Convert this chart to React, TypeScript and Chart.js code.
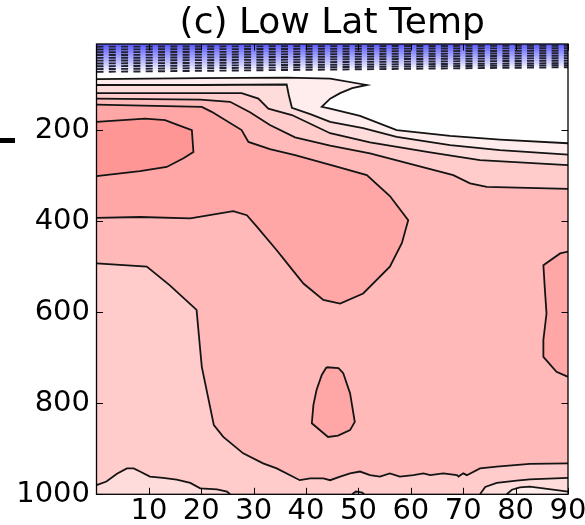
import React, { useEffect, useRef } from 'react';
import { Chart, registerables } from 'chart.js';

Chart.register(...registerables);

// ---- axis ticks ----
const latTicks = [10, 20, 30, 40, 50, 60, 70, 80, 90];
const presTicks = [200, 400, 600, 800, 1000];
const presTop = 11;

// ---- negative (dashed) contours: pressure at lat 0 and lat 90 ----
const negLevelsAt0 = [16.9, 23.0, 29.2, 35.3, 41.5, 47.6, 53.8, 59.9, 66.1, 72.2];
const negLevelsAt90 = [14.7, 20.2, 25.7, 31.2, 36.6, 42.1, 47.6, 53.1, 57.5, 62.0];

// ---- positive contours, [latitude, pressure] ----
const c1 = [[0, 88], [19.8, 86], [36.4, 85], [44.6, 87], [51.6, 101], [48.8, 108], [46.5, 119], [44.6, 131], [43.0, 149], [44.6, 153], [50.3, 169], [57.3, 200], [67.5, 213], [77.0, 221], [90, 229]];
const c2 = [[0, 101], [19.8, 101], [36.3, 100], [36.7, 123], [37.3, 151], [40.8, 165], [44.6, 182], [50.9, 196], [57.3, 215], [67.5, 233], [77.0, 244], [90, 254]];
const c3 = [[0, 119], [27.7, 119], [30.9, 131], [32.8, 153], [37.3, 167], [44.6, 207], [52.2, 227], [63.7, 249], [73.2, 266], [90, 277]];
const c4 = [[0, 131], [19.8, 133], [25.5, 138], [29.3, 161], [33.1, 189], [37.9, 216], [44.6, 234], [52.2, 251], [68.1, 299], [71.3, 317], [74.5, 325], [90, 329]];
const c4Low = [[0, 493], [9.6, 500], [14.0, 541], [19.1, 595], [19.8, 683], [20.1, 720], [22.4, 848], [24.2, 874], [28.0, 910], [31.8, 932], [34.4, 943], [38.8, 969], [40.8, 965], [43.3, 965], [44.6, 969], [46.5, 961], [48.4, 954], [50.3, 950], [52.2, 958], [54.1, 961], [56.0, 954], [57.9, 961], [60.5, 958], [62.4, 954], [63.7, 958], [66.2, 954], [68.8, 958], [69.1, 961], [70.0, 954], [70.7, 958], [73.2, 943], [76.4, 939], [82.7, 933], [90, 932]];
const c3LowRight = [[73.2, 1000], [74.2, 984], [76.4, 975], [80.2, 970], [82.7, 967], [90, 964]];
const c3LowLeft = [[0, 980], [1.9, 972], [3.9, 955], [5.8, 943], [7.1, 943], [8.3, 950], [10.2, 961], [12.7, 964], [15.3, 968], [17.9, 975], [19.8, 987], [23.0, 989], [24.9, 994], [25.5, 1000]];
const c3Bump = [[48.8, 1000], [49.5, 994], [50.7, 996], [51.1, 1000]];
const c2LowRight = [[78.3, 1000], [79.3, 990], [80.8, 985], [82.7, 983], [85.3, 987], [90, 994]];
const c5Lobe = [[0, 144], [20.1, 149], [22.0, 160], [27.7, 200], [29.0, 226], [33.1, 242], [37.9, 255], [45.5, 279], [51.6, 299], [56.0, 345], [59.5, 398], [58.3, 448], [56.0, 500], [50.9, 559], [46.5, 581], [43.3, 573], [39.5, 537], [36.9, 500], [34.4, 464], [30.6, 412], [28.7, 387], [26.1, 378], [17.9, 394], [8.3, 391], [0, 393]];
const c5Mid = [[43.9, 721], [46.2, 723], [47.1, 734], [48.4, 778], [49.3, 841], [48.4, 859], [46.1, 871], [44.2, 874], [41.1, 844], [41.4, 804], [42.0, 771], [43.0, 738], [43.9, 721]];
const c5Right = [[90, 467], [88.5, 471], [85.3, 497], [85.6, 552], [85.9, 603], [85.3, 661], [85.3, 698], [87.8, 731], [90, 742]];
const c6Core = [[0, 182], [9.3, 175], [13.1, 178], [15.6, 189], [18.2, 200], [18.5, 248], [16.6, 262], [13.4, 281], [8.3, 290], [0, 301]];

// ---- fill colours ----
const posColors = ['#ffeded', '#ffdcdc', '#ffcbcb', '#ffb9b9', '#ffa7a7', '#ff9696'];
const negColors = ['#efefff', '#dfdfff', '#cfcfff', '#bfbfff', '#afafff', '#9f9fff', '#8f8fff', '#7f7fff', '#6f6fff', '#5f5fff'];

const rev = (a: number[][]) => a.slice().reverse();
const toXY = (a: number[][]) => a.map(([x, y]) => ({ x, y }));

type Region = { pts: number[][]; color: string };
const regions: Region[] = [];
// negative bands, from the weakest (lowest) to the strongest (top)
for (let k = negLevelsAt0.length - 1; k >= 0; k--) {
  regions.push({
    pts: [[0, presTop], [90, presTop], [90, negLevelsAt90[k]], [0, negLevelsAt0[k]]],
    color: negColors[negLevelsAt0.length - 1 - k],
  });
}
regions.push({ pts: [...c1, [90, 1000], [0, 1000]], color: posColors[0] });
regions.push({ pts: [...c2, ...rev(c2LowRight), [0, 1000]], color: posColors[1] });
regions.push({ pts: [...c3, ...rev(c3LowRight), ...rev(c3LowLeft)], color: posColors[2] });
regions.push({ pts: c3Bump, color: posColors[1] });
regions.push({ pts: [...c4, ...rev(c4Low)], color: posColors[3] });
regions.push({ pts: c5Lobe, color: posColors[4] });
regions.push({ pts: c5Mid, color: posColors[4] });
regions.push({ pts: c5Right, color: posColors[4] });
regions.push({ pts: c6Core, color: posColors[5] });

const solidLines = [c1, c2, c3, c4, c4Low, c3LowRight, c3LowLeft, c3Bump, c2LowRight, c5Lobe, c5Mid, c5Right, c6Core];

const fillPlugin = {
  id: 'contourFill',
  beforeDatasetsDraw(chart: any) {
    const { ctx, chartArea, scales } = chart;
    const xs = scales.x;
    const ys = scales.y;
    ctx.save();
    ctx.beginPath();
    ctx.rect(chartArea.left, chartArea.top, chartArea.right - chartArea.left, chartArea.bottom - chartArea.top);
    ctx.clip();
    for (const r of regions) {
      ctx.beginPath();
      r.pts.forEach(([a, b], i) => {
        const px = xs.getPixelForValue(a);
        const py = ys.getPixelForValue(b);
        if (i === 0) ctx.moveTo(px, py);
        else ctx.lineTo(px, py);
      });
      ctx.closePath();
      ctx.fillStyle = r.color;
      ctx.fill();
    }
    ctx.restore();
  },
};

const framePlugin = {
  id: 'frameTicks',
  afterDraw(chart: any) {
    const { ctx, chartArea, scales } = chart;
    const { left, right, top, bottom } = chartArea;
    ctx.save();
    ctx.strokeStyle = '#000';
    ctx.lineWidth = 1.3;
    ctx.strokeRect(left, top, right - left, bottom - top);
    const len = 6.5;
    ctx.lineWidth = 1;
    ctx.beginPath();
    for (const v of latTicks) {
      const px = Math.round(scales.x.getPixelForValue(v)) + 0.5;
      ctx.moveTo(px, bottom);
      ctx.lineTo(px, bottom - len);
      ctx.moveTo(px, top);
      ctx.lineTo(px, top + len);
    }
    for (const v of presTicks) {
      const py = Math.round(scales.y.getPixelForValue(v)) + 0.5;
      ctx.moveTo(left, py);
      ctx.lineTo(left + len, py);
      ctx.moveTo(right, py);
      ctx.lineTo(right - len, py);
    }
    ctx.stroke();
    // fragment of the neighbouring panel at the left edge
    ctx.fillStyle = '#000';
    ctx.fillRect(0, 138, 15, 5);
    ctx.restore();
  },
};

export default function App() {
  const ref = useRef<HTMLCanvasElement | null>(null);
  useEffect(() => {
    if (!ref.current) return;
    Chart.defaults.font.family = 'DejaVu Sans';
    const datasets: any[] = [];
    for (const l of solidLines) {
      datasets.push({
        data: toXY(l),
        showLine: true,
        borderColor: '#141414',
        borderWidth: 1.8,
        pointRadius: 0,
        fill: false,
        tension: 0,
      });
    }
    negLevelsAt0.forEach((v, k) => {
      datasets.push({
        data: toXY([[0, v], [90, negLevelsAt90[k]]]),
        showLine: true,
        borderColor: '#222233',
        borderWidth: 1.9,
        borderDash: [7, 5.3],
        pointRadius: 0,
        fill: false,
        tension: 0,
      });
    });
    const chart = new Chart(ref.current, {
      type: 'scatter',
      data: { datasets },
      options: {
        responsive: false,
        animation: false,
        devicePixelRatio: 1,
        events: [],
        layout: { padding: { left: 0, right: 17, top: 0, bottom: 0 } },
        plugins: {
          legend: { display: false },
          tooltip: { enabled: false },
          title: {
            display: true,
            text: '(c) Low Lat Temp',
            fullSize: false,
            color: '#000',
            font: { family: 'DejaVu Sans', size: 36, weight: 'normal', lineHeight: 1 },
            padding: { top: 6, bottom: 2 },
          },
        },
        scales: {
          x: {
            type: 'linear',
            min: 0,
            max: 90,
            grid: { display: false, drawTicks: false },
            border: { display: false },
            ticks: {
              color: '#000',
              font: { size: 29 },
              padding: 0,
              autoSkip: false,
              maxRotation: 0,
              callback: (v: any) => String(v),
            },
            afterBuildTicks: (s: any) => {
              s.ticks = latTicks.map((value) => ({ value }));
            },
            afterFit: (s: any) => {
              s.height = 30.7;
              s.paddingLeft = 0;
              s.paddingRight = 0;
            },
          },
          y: {
            type: 'linear',
            reverse: true,
            min: presTop,
            max: 1000,
            grid: { display: false, drawTicks: false },
            border: { display: false },
            ticks: {
              color: '#000',
              font: { size: 29 },
              padding: 6.5,
              autoSkip: false,
              callback: (v: any) => String(v),
            },
            afterBuildTicks: (s: any) => {
              s.ticks = presTicks.map((value) => ({ value }));
            },
            afterFit: (s: any) => {
              s.width = 96.5;
              s.paddingTop = 0;
              s.paddingBottom = 0;
            },
          },
        },
      } as any,
      plugins: [fillPlugin, framePlugin],
    });
    return () => chart.destroy();
  }, []);
  return (
    <div style={{ position: 'fixed', left: 0, top: 0, width: 585, height: 525, background: '#fff' }}>
      <canvas ref={ref} width={585} height={525} style={{ display: 'block' }} />
    </div>
  );
}
